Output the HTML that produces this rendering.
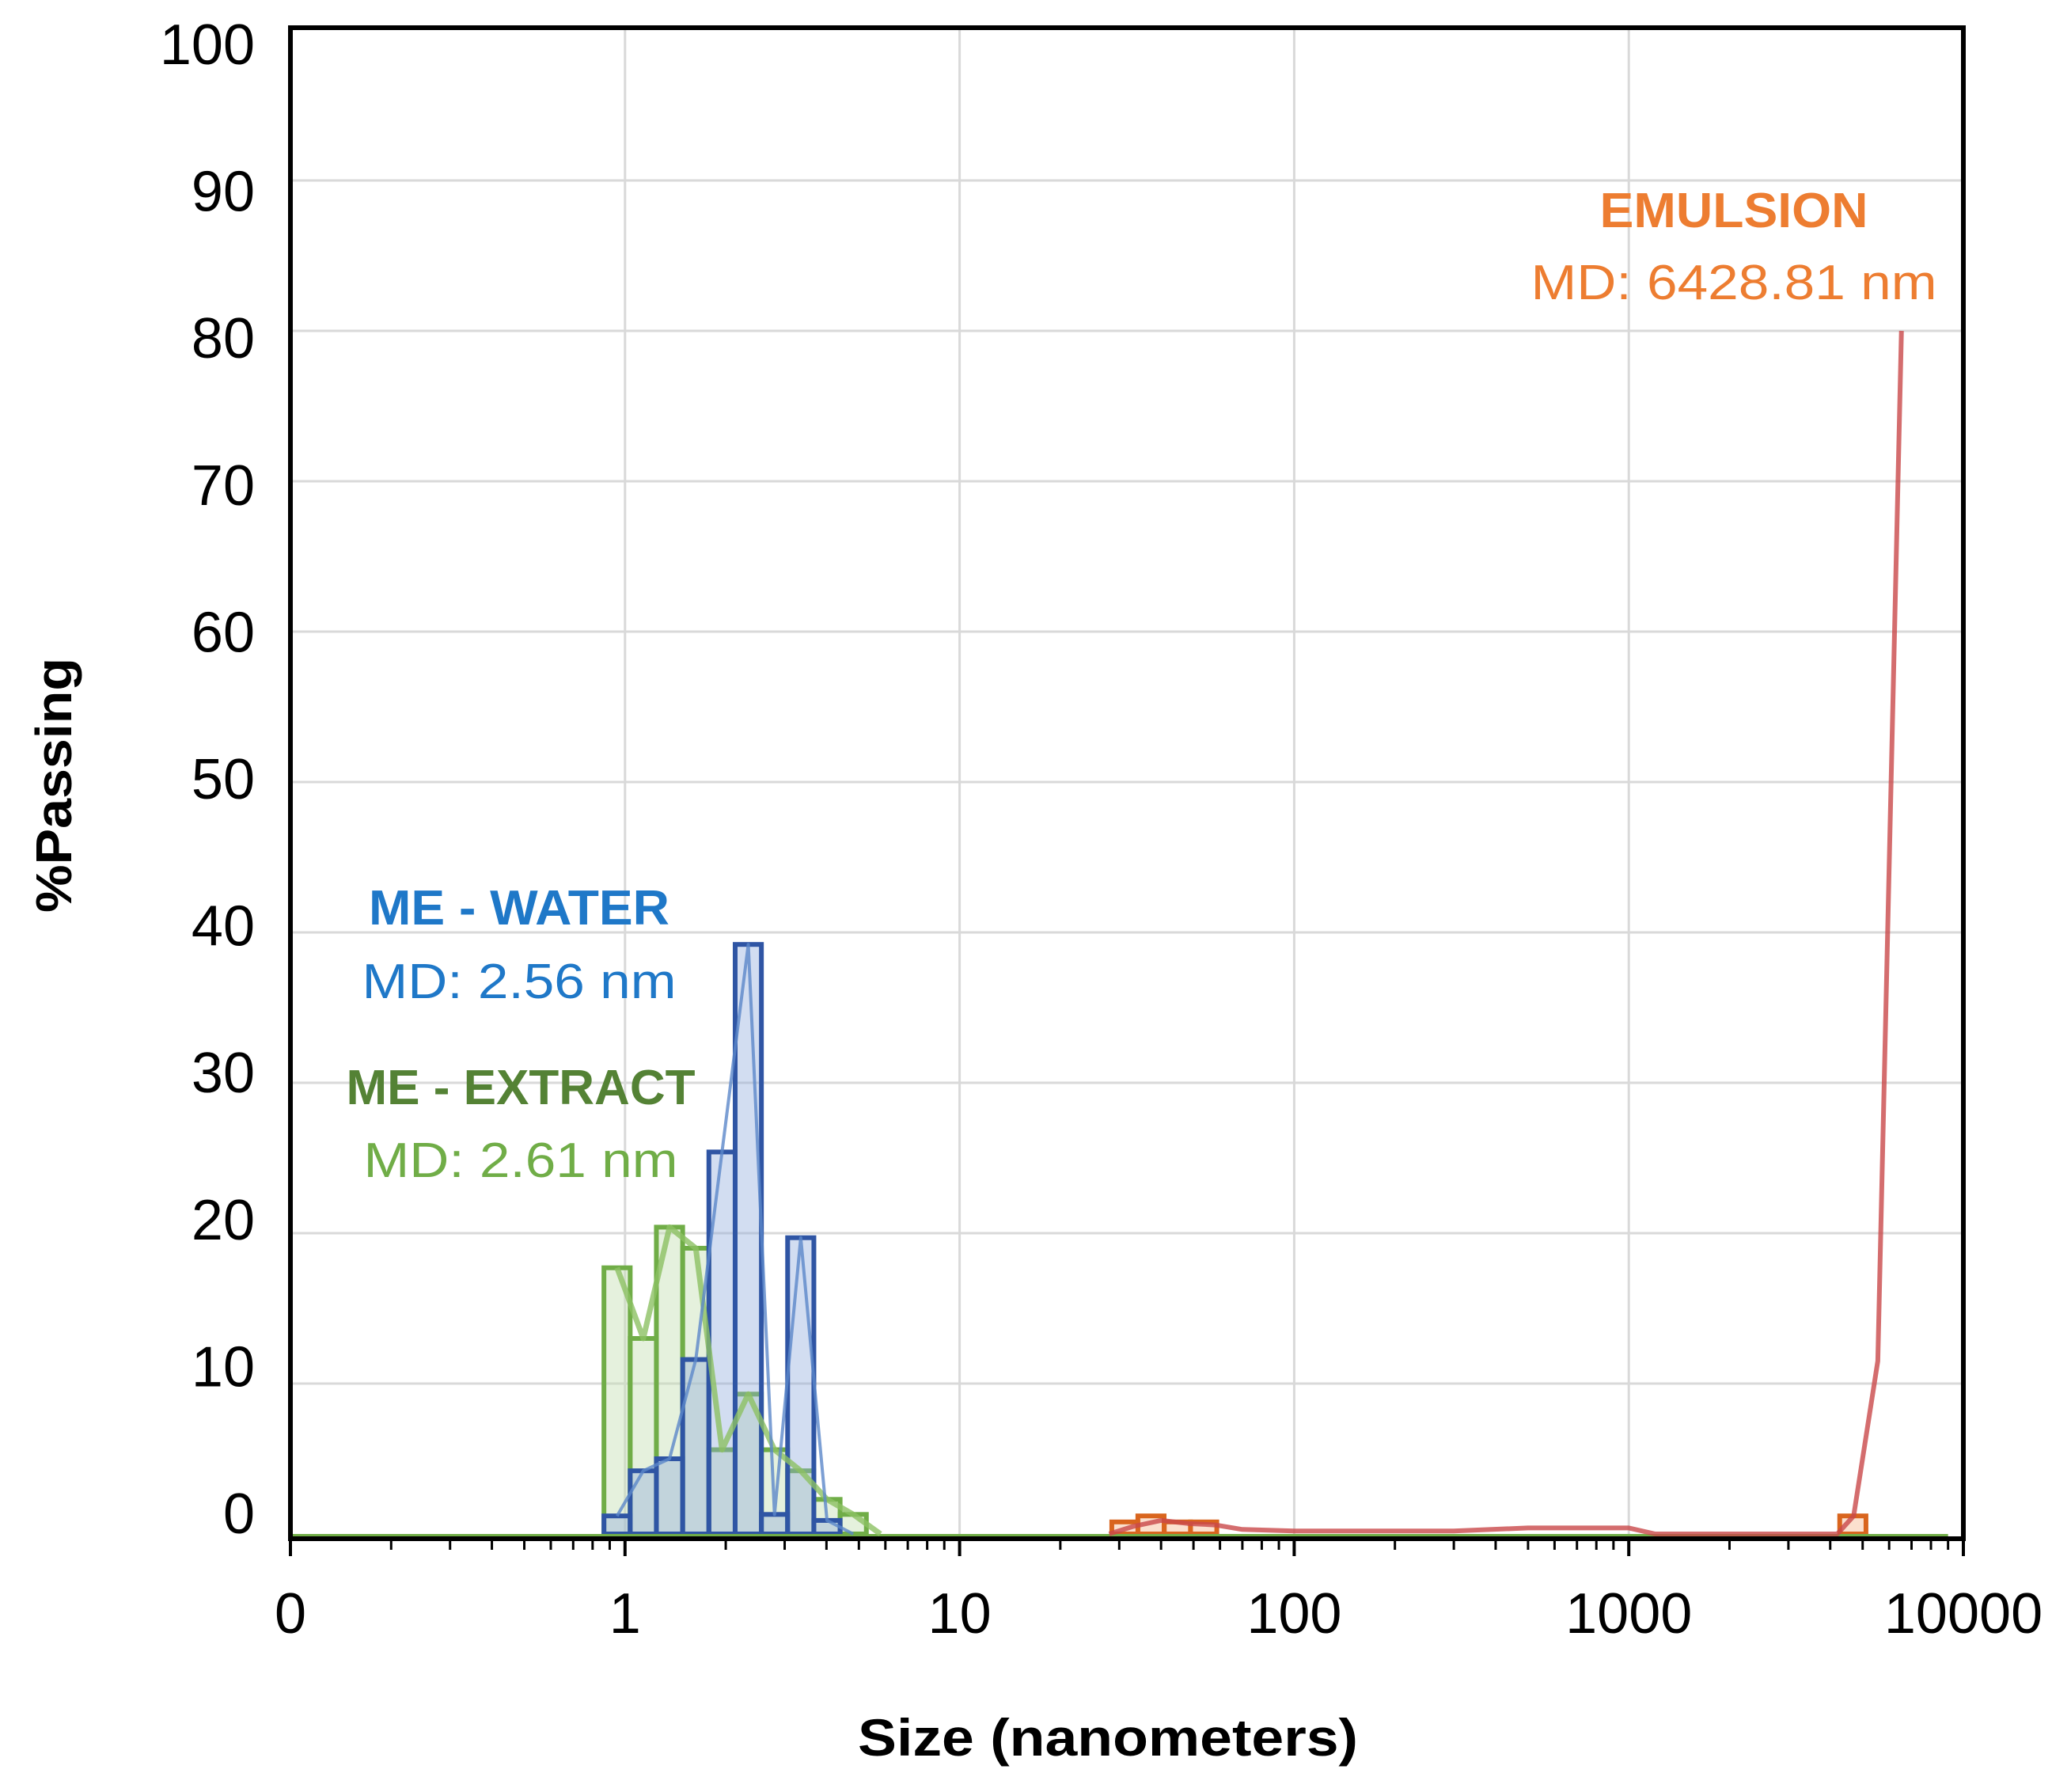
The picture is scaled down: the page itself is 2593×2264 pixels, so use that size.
<!DOCTYPE html>
<html><head><meta charset="utf-8"><style>
html,body{margin:0;padding:0;background:#fff;}
svg{display:block;font-family:"Liberation Sans",sans-serif;}
</style></head><body>
<svg id="chart" width="2593" height="2264" viewBox="0 0 2593 2264" xmlns="http://www.w3.org/2000/svg">
<g id="grid"></g>
<g id="bars"></g>
<g id="lines"></g>
<g id="axes"></g>
<text transform="translate(90,992) rotate(-90)" text-anchor="middle" font-size="64" font-weight="bold" textLength="322" lengthAdjust="spacingAndGlyphs">%Passing</text>
<text x="1400" y="2218" text-anchor="middle" font-size="66" font-weight="bold" textLength="632" lengthAdjust="spacingAndGlyphs">Size (nanometers)</text>
<text x="2191" y="287" text-anchor="middle" font-size="62" font-weight="bold" fill="#ED7D31" textLength="339" lengthAdjust="spacingAndGlyphs">EMULSION</text>
<text x="2191" y="378" text-anchor="middle" font-size="62" fill="#ED7D31" textLength="513" lengthAdjust="spacingAndGlyphs">MD: 6428.81 nm</text>
<text x="656" y="1168" text-anchor="middle" font-size="62" font-weight="bold" fill="#1F78C8" textLength="380" lengthAdjust="spacingAndGlyphs">ME - WATER</text>
<text x="656" y="1261" text-anchor="middle" font-size="62" fill="#1F78C8" textLength="397" lengthAdjust="spacingAndGlyphs">MD: 2.56 nm</text>
<text x="658" y="1395" text-anchor="middle" font-size="62" font-weight="bold" fill="#548235" textLength="441" lengthAdjust="spacingAndGlyphs">ME - EXTRACT</text>
<text x="658" y="1487" text-anchor="middle" font-size="62" fill="#70AD47" textLength="397" lengthAdjust="spacingAndGlyphs">MD: 2.61 nm</text>
</svg>
<script>
const yTicks = [0,10,20,30,40,50,60,70,80,90,100];
const xTickValues = [0.1,1,10,100,1000,10000];
const xTickLabels = ["0","1","10","100","1000","10000"];
const meBinStarts = [0.865,1.036,1.241,1.487,1.781,2.134,2.556,3.062,3.668,4.394];
const waterValues = [1.2,4.2,5.0,11.6,25.4,39.2,1.3,19.7,0.9,0];
const extractValues = [17.7,13.0,20.4,19.0,5.6,9.3,5.6,4.2,2.3,1.3];
const emulsionBinStarts = [28.5,34.1,40.9,49.0,4270];
const emulsionBarValues = [0.8,1.2,0.8,0.8,1.2];
const emulsionLineSizes = [28,33,40,48,58,70,100,300,500,1000,1200,4200,4700,5550,6530];
const emulsionLineValues = [0,0.5,0.9,0.7,0.6,0.3,0.2,0.2,0.4,0.4,0,0,1.2,11.5,80];
const binRatio = 1.198;

const NS="http://www.w3.org/2000/svg";
const X0=367, DEC=422.8, Y0=1938, YS=19.0, TOP=35, RIGHT=2481, AXY=1944;
function xs(v){return X0+(Math.log10(v)+1)*DEC;}
function ys(v){return Y0-v*YS;}
function labelY(v){return 55+(100-v)*18.56+26;}
function mk(tag,parent,attrs){const e=document.createElementNS(NS,tag);for(const k in attrs)e.setAttribute(k,attrs[k]);parent.appendChild(e);return e;}
const grid=document.getElementById('grid'),bars=document.getElementById('bars'),lines=document.getElementById('lines'),axes=document.getElementById('axes');

yTicks.forEach(v=>{
  if(v>0&&v<100){const l=mk('line',grid,{x1:X0,x2:RIGHT,y1:ys(v),y2:ys(v),stroke:'#d9d9d9','stroke-width':3});
  
  }
  const t=mk('text',axes,{x:322,y:labelY(v),'text-anchor':'end','font-size':72});
  
  
  t.textContent=v;
});
xTickValues.forEach((v,i)=>{
  if(i>0&&i<xTickValues.length-1){const l=mk('line',grid,{x1:xs(v),x2:xs(v),y1:TOP,y2:AXY,stroke:'#d9d9d9','stroke-width':3});
  
  }
  const t=mk('text',axes,{x:xs(v),y:2063,'text-anchor':'middle','font-size':72});
  
  
  t.textContent=xTickLabels[i];
  if(i<xTickValues.length-1){for(let m=2;m<=9;m++){const tk=mk('line',axes,{x1:xs(v*m),x2:xs(v*m),y1:AXY,y2:AXY+14,stroke:'#000','stroke-width':3});
    
    }}
  const mt=mk('line',axes,{x1:xs(v),x2:xs(v),y1:AXY,y2:AXY+22,stroke:'#000','stroke-width':4});
  
  
});

function drawBars(starts,vals,stroke,fill,name){
  starts.forEach((s,i)=>{
    if(vals[i]<=0)return;
    const x1=xs(s),x2=xs(s*binRatio);
    const r=mk('rect',bars,{x:x1,y:ys(vals[i]),width:x2-x1,height:Y0-ys(vals[i]),fill:fill,stroke:stroke,'stroke-width':6});
    
    
  });
}
function drawLine(xsArr,vals,stroke,w,name,center){
  const pts=xsArr.map((s,i)=>(center?xs(s*Math.sqrt(binRatio)):xs(s))+','+ys(vals[i])).join(' ');
  const p=mk('polyline',lines,{points:pts,fill:'none',stroke:stroke,'stroke-width':w,'stroke-linejoin':'round',opacity:0.8});
  
  
}
drawBars(meBinStarts,extractValues,'#70AD47','rgba(197,224,180,0.45)','extract-bar');
drawBars(meBinStarts,waterValues,'#2F55A4','rgba(143,170,220,0.4)','water-bar');
drawBars(emulsionBinStarts,emulsionBarValues,'#D9651E','rgba(248,203,173,0.6)','emulsion-bar');
const gb=mk('line',lines,{x1:xs(0.1),x2:xs(9000),y1:Y0+2,y2:Y0+2,stroke:'#70AD47','stroke-width':4});


drawLine(meBinStarts.concat([5.3]),extractValues.concat([0]),'#8CC063',7,'extract-line',true);
drawLine(meBinStarts,waterValues,'#5B87C9',4,'water-line',true);
drawLine(emulsionLineSizes,emulsionLineValues,'#C9494A',6,'emulsion-line',false);

const fr=mk('rect',axes,{x:X0,y:TOP,width:RIGHT-X0,height:AXY-TOP,fill:'none',stroke:'#000','stroke-width':6});


</script>
</body></html>
